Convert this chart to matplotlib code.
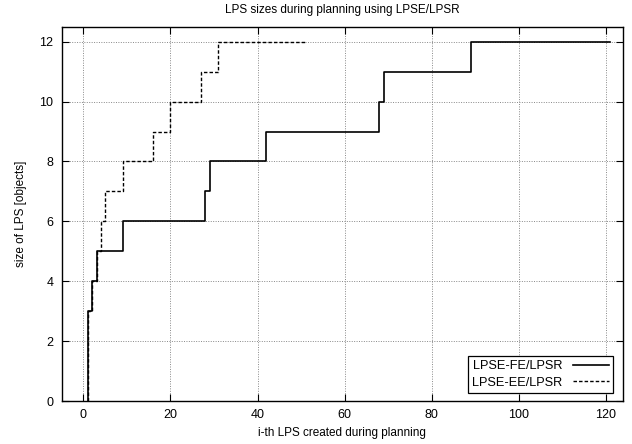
import matplotlib
matplotlib.use("Agg")
import matplotlib.pyplot as plt

plt.rcParams['font.family'] = ['Liberation Sans', 'DejaVu Sans']

# LPSE-FE/LPSR steps
fe_x = [1, 1, 2, 3, 9, 28, 29, 42, 68, 69, 89, 121]
fe_y = [0, 3, 4, 5, 6, 7, 8, 9, 10, 11, 12, 12]

# LPSE-EE/LPSR steps
ee_x = [1, 1, 2, 3, 4, 5, 9, 16, 20, 27, 31, 51]
ee_y = [0, 3, 4, 5, 6, 7, 8, 9, 10, 11, 12, 12]

xticks = [0, 20, 40, 60, 80, 100, 120]
yticks = [0, 2, 4, 6, 8, 10, 12]

fig = plt.figure(figsize=(6.32, 4.44), dpi=100)
ax = fig.add_axes([61.7 / 632, 43 / 444, (623 - 61.7) / 632, (401 - 26.7) / 444])

ax.step(fe_x, fe_y, where='post', color='black', lw=1.2, label='LPSE-FE/LPSR')
ax.step(ee_x, ee_y, where='post', color='black', lw=1.0, dashes=(2.5, 1.5),
        label='LPSE-EE/LPSR')

ax.set_xlim(-5, 124)
ax.set_ylim(0, 12.5)
ax.set_xticks(xticks)
ax.set_yticks(yticks)
ax.tick_params(direction='in', top=True, right=True, length=5, width=0.8,
               labelsize=9, colors='black', pad=6)
ax.grid(True, color='#888888', linestyle=(0, (1, 1.5)), lw=0.7)
for s in ax.spines.values():
    s.set_linewidth(1.0)

ax.set_title('LPS sizes during planning using LPSE/LPSR', fontsize=8.5, pad=10)
ax.set_xlabel('i-th LPS created during planning', fontsize=8.5, labelpad=4)
ax.set_ylabel('size of LPS [objects]', fontsize=8.5, labelpad=9)

leg = ax.legend(loc='lower right', bbox_to_anchor=(613 / 632, 51 / 444),
                bbox_transform=fig.transFigure, borderaxespad=0,
                markerfirst=False, handlelength=2.8, fontsize=9.2,
                fancybox=False, framealpha=1, edgecolor='black',
                borderpad=0.35, labelspacing=0.35, handletextpad=0.8)
leg.get_frame().set_linewidth(0.9)

fig.savefig('out.png', dpi=100)
